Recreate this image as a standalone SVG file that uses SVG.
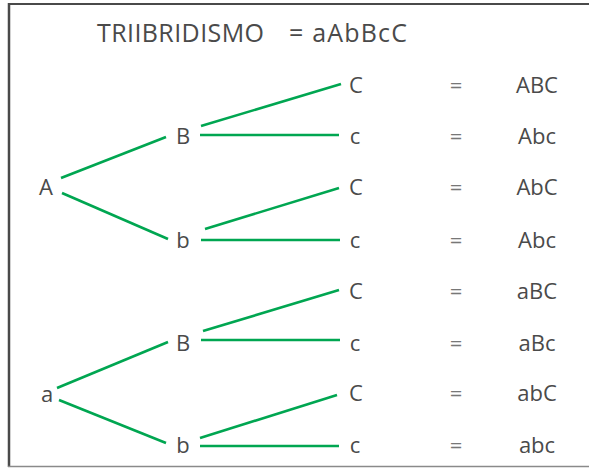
<svg xmlns="http://www.w3.org/2000/svg" width="589" height="468" viewBox="0 0 589 468">
<style>
text{font-family:"Open Sans","Noto Sans","Liberation Sans",sans-serif;fill:#4a4a4a;font-size:22px}
.t{font-size:25px}
.m{text-anchor:middle}
.e{fill:#777}
.c line{stroke:#00a651;stroke-width:2.6;stroke-linecap:butt}
</style>
<rect width="589" height="468" fill="#fff"/>
<g id="frame">
<line x1="9" y1="3" x2="9" y2="467" stroke="#4a4a4a" stroke-width="2.5"/>
<line x1="8" y1="4" x2="589" y2="4" stroke="#4a4a4a" stroke-width="2.2"/>
<line x1="8" y1="466.5" x2="589" y2="466.5" stroke="#8a8a8a" stroke-width="1.5"/>
</g>
<g id="title">
<text class="t" x="97" y="42" textLength="167" lengthAdjust="spacing">TRIIBRIDISMO</text>
<text class="t" x="289" y="42" textLength="118" lengthAdjust="spacing">= aAbBcC</text>
</g>
<g class="c" id="connectors">
<line x1="61" y1="178" x2="166" y2="137"/>
<line x1="62" y1="193" x2="168" y2="239"/>
<line x1="201" y1="126" x2="341" y2="84"/>
<line x1="200" y1="135" x2="339" y2="135"/>
<line x1="205" y1="229" x2="339" y2="188"/>
<line x1="201" y1="240" x2="340" y2="240"/>
<line x1="57" y1="388" x2="168" y2="342"/>
<line x1="59" y1="400" x2="166" y2="443"/>
<line x1="203" y1="331" x2="339" y2="290"/>
<line x1="201" y1="340" x2="340" y2="340"/>
<line x1="200" y1="438" x2="337" y2="395"/>
<line x1="200" y1="446" x2="339" y2="446"/>
</g>
<g id="n-A"><text class="m" x="46" y="195">A</text></g>
<g id="n-a"><text class="m" x="47" y="402">a</text></g>
<g id="n-B1"><text class="m" x="183" y="144">B</text></g>
<g id="n-b1"><text class="m" x="183" y="248">b</text></g>
<g id="n-B2"><text class="m" x="183" y="351">B</text></g>
<g id="n-b2"><text class="m" x="183" y="453">b</text></g>
<g id="n-C1"><text class="m" x="356" y="93">C</text></g>
<g id="n-c1"><text class="m" x="355" y="144">c</text></g>
<g id="n-C2"><text class="m" x="356" y="195">C</text></g>
<g id="n-c2"><text class="m" x="355" y="248">c</text></g>
<g id="n-C3"><text class="m" x="356" y="299">C</text></g>
<g id="n-c3"><text class="m" x="355" y="351">c</text></g>
<g id="n-C4"><text class="m" x="356" y="401">C</text></g>
<g id="n-c4"><text class="m" x="355" y="453">c</text></g>
<g id="eq">
<text class="m e" x="456" y="93">=</text>
<text class="m e" x="456" y="144">=</text>
<text class="m e" x="456" y="195">=</text>
<text class="m e" x="456" y="248">=</text>
<text class="m e" x="456" y="299">=</text>
<text class="m e" x="456" y="351">=</text>
<text class="m e" x="456" y="401">=</text>
<text class="m e" x="456" y="453">=</text>
</g>
<g id="results">
<text class="m" x="537" y="93">ABC</text>
<text class="m" x="537" y="144">Abc</text>
<text class="m" x="537" y="195">AbC</text>
<text class="m" x="537" y="248">Abc</text>
<text class="m" x="537" y="299">aBC</text>
<text class="m" x="537" y="351">aBc</text>
<text class="m" x="537" y="401">abC</text>
<text class="m" x="537" y="453">abc</text>
</g>
</svg>
